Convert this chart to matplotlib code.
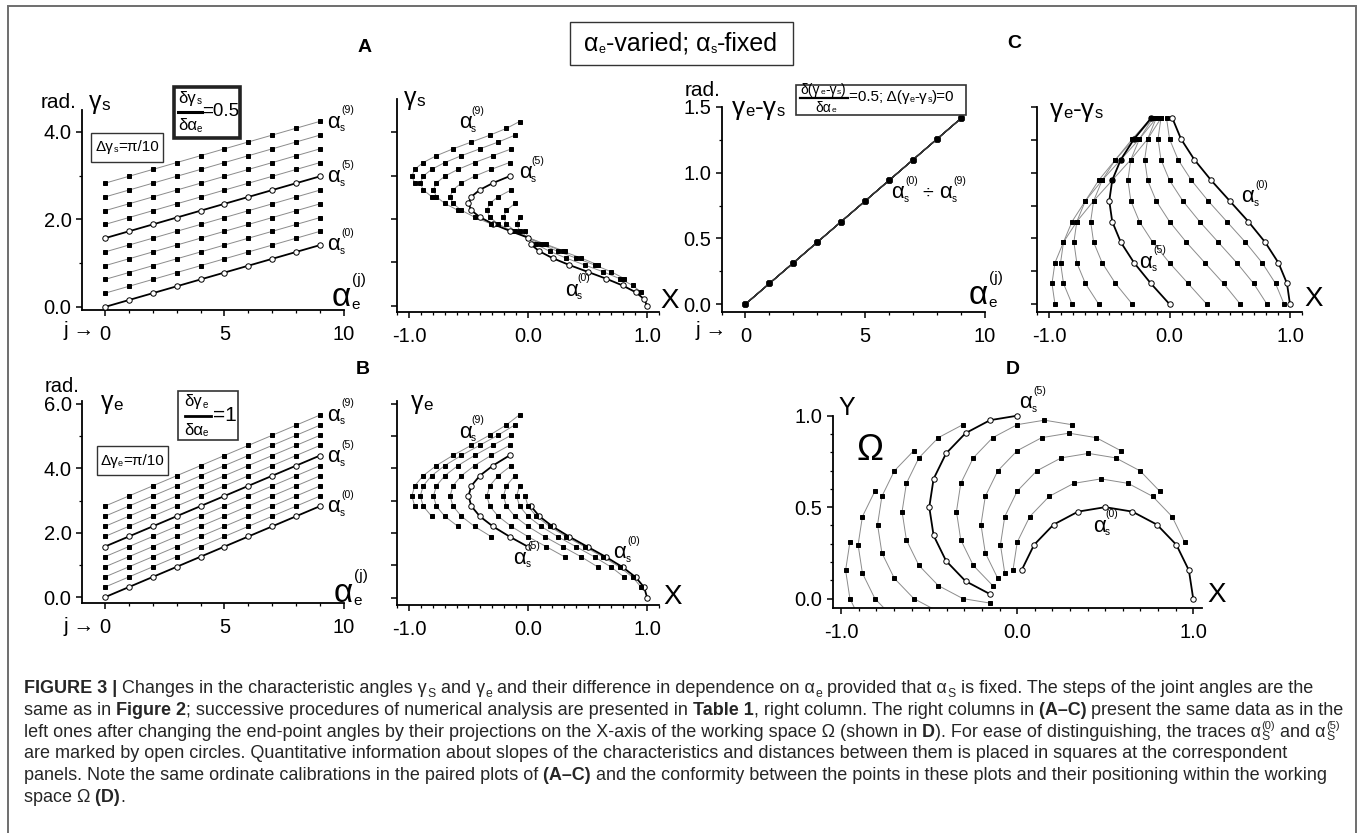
import numpy as np
import matplotlib
matplotlib.use("Agg")
import matplotlib.pyplot as plt
from matplotlib import font_manager as fm
from matplotlib.patches import Rectangle
from matplotlib.lines import Line2D
from matplotlib.ticker import MultipleLocator, FormatStrFormatter, NullFormatter
from matplotlib.transforms import Bbox, TransformedBbox

# joint angle grid (step pi/10 as written in the boxes), degrees
alpha_s_deg = [0, 18, 36, 54, 72, 90, 108, 126, 144, 162]   # traces alpha_s^(0)..(9)
alpha_e_deg = [0, 18, 36, 54, 72, 90, 108, 126, 144, 162]   # alpha_e^(j)
j_index = [0, 1, 2, 3, 4, 5, 6, 7, 8, 9]
slope_gs = 0.5          # d gamma_s / d alpha_e
slope_ge = 1.0          # d gamma_e / d alpha_e
link_len = [0.5, 0.5]   # two segments -> reach 1 (working space Omega)
open_traces = [0, 5]    # traces marked by open circles

# caption, piece by piece: n = normal, b = bold, sub, sup, subsup ("sub|sup")
caption_lines = [
    [("FIGURE 3 |", "b"), (" Changes in the characteristic angles γ", "n"), ("S", "sub"),
     (" and γ", "n"), ("e", "sub"), (" and their difference in dependence on α", "n"), ("e", "sub"),
     (" provided that α", "n"), ("S", "sub"), (" is fixed. The steps of the joint angles are the", "n")],
    [("same as in", "n"), (" Figure 2", "b"), ("; successive procedures of numerical analysis are presented in", "n"),
     (" Table 1", "b"), (", right column. The right columns in", "n"), (" (A–C)", "b"),
     (" present the same data as in the", "n")],
    [("left ones after changing the end-point angles by their projections on the X-axis of the working space Ω (shown in", "n"),
     (" D", "b"), ("). For ease of distinguishing, the traces α", "n"), ("S|(0)", "subsup"),
     (" and α", "n"), ("S|(5)", "subsup")],
    [("are marked by open circles. Quantitative information about slopes of the characteristics and distances between them is placed in squares at the correspondent", "n")],
    [("panels. Note the same ordinate calibrations in the paired plots of", "n"), (" (A–C)", "b"),
     (" and the conformity between the points in these plots and their positioning within the working", "n")],
    [("space Ω", "n"), (" (D)", "b"), (".", "n")],
]

W, H = 1360, 833
PT = 100 / 72.0
names = {f.name for f in fm.fontManager.ttflist}
CAPFONT = "Liberation Sans Narrow" if "Liberation Sans Narrow" in names else "Liberation Sans"

plt.rcParams["font.family"] = ["Liberation Sans", "DejaVu Sans"]
plt.rcParams["axes.unicode_minus"] = False

a_s = np.radians(alpha_s_deg)[:, None]
a_e = np.radians(alpha_e_deg)[None, :]
gam_s = a_s + slope_gs * a_e
gam_e = a_s + slope_ge * a_e
gam_d = gam_e - gam_s
Xend = link_len[0] * np.cos(a_s) + link_len[1] * np.cos(a_s + a_e)
Yend = link_len[0] * np.sin(a_s) + link_len[1] * np.sin(a_s + a_e)
J = np.tile(j_index, (len(alpha_s_deg), 1))

fig = plt.figure(figsize=(W / 100, H / 100), dpi=100)
R = fig.canvas.get_renderer()


def T(x, y, s, size, ha="center", va="center", **kw):
    return fig.text(x / W, 1 - y / H, s, fontsize=size, ha=ha, va=va, **kw)


def wid(t):
    return t.get_window_extent(R).width


def run(x, y, pieces, ha="left"):
    objs, cx = [], 0
    for p in pieces:
        s, size, dy = p[:3]
        t = fig.text(0, 0, s, fontsize=size, va="center", ha="left")
        objs.append((t, cx, dy))
        cx += wid(t)
    x0 = x - cx / 2 if ha == "center" else x
    for t, off, dy in objs:
        t.set_position(((x0 + off) / W, 1 - (y + dy) / H))


def cap_line(x, y, pieces, size, keep=True):
    # y is the baseline, in pixels from the top
    made, cx = [], x
    kw = dict(family=[CAPFONT, "DejaVu Sans"], color="#262626", va="baseline", ha="left")
    for s, kind in pieces:
        if kind in ("n", "b"):
            t = T(cx, y, s, size, weight="bold" if kind == "b" else "normal", **kw)
            made.append(t)
            cx += wid(t)
        elif kind == "sub":
            t = T(cx + 0.5, y + 0.2 * size * PT, s, size * 0.68, **kw)
            made.append(t)
            cx += wid(t) + 0.5
        else:
            lo, hi = s.split("|")
            t1 = T(cx + 0.5, y + 0.2 * size * PT, lo, size * 0.68, **kw)
            t2 = T(cx + 0.5, y - 0.42 * size * PT, hi, size * 0.62, **kw)
            made += [t1, t2]
            cx += max(wid(t1), wid(t2)) + 0.5
    if not keep:
        for t in made:
            t.remove()
    return cx - x


def alab(x, y, k, size=16):
    t = T(x, y, "α", size)
    r = x + wid(t) / 2
    T(r + 0.5, y - 0.55 * size * PT, "(%d)" % k, size * 0.47, ha="left")
    T(r - 1.0, y + 0.28 * size * PT, "s", size * 0.45, ha="left")


def aej(x, y, size=24):
    t = T(x, y, "α", size)
    r = x + wid(t) / 2
    T(r + 0.5, y + 0.24 * size * PT, "e", size * 0.46, ha="left")
    T(r + 1.5, y - 0.52 * size * PT, "(j)", size * 0.46, ha="left")


def glab(x, y, sub, size=18):
    t = T(x, y, "γ", size)
    r = x + wid(t) / 2
    T(r + 0.5, y + 0.12 * size * PT, sub, size * 0.68, ha="left")


def box(x0, y0, x1, y1, lw=1.0, ec="#333333"):
    fig.add_artist(Rectangle((x0 / W, 1 - y1 / H), (x1 - x0) / W, (y1 - y0) / H,
                             transform=fig.transFigure, fill=False, lw=lw, ec=ec))


def bar(x0, x1, y, lw):
    fig.add_artist(Line2D([x0 / W, x1 / W], [1 - y / H, 1 - y / H],
                          transform=fig.transFigure, lw=lw, color="black"))


def make_ax(x0, x1, y0, y1, xlim, ylim):
    ax = fig.add_axes([x0 / W, 1 - y1 / H, (x1 - x0) / W, (y1 - y0) / H])
    ax.set_xlim(xlim)
    ax.set_ylim(ylim)
    for s in ["top", "right"]:
        ax.spines[s].set_visible(False)
    for s in ["left", "bottom"]:
        ax.spines[s].set_linewidth(1.3)
    ax.tick_params(which="major", direction="out", length=4.5, width=1.1, labelsize=14.5)
    ax.tick_params(which="minor", direction="out", length=2.5, width=0.9)
    ax.tick_params(axis="x", pad=6)
    ax.tick_params(axis="y", pad=3)
    ax.patch.set_visible(False)
    return ax


def traces(ax, xs, ys, clip=None):
    for k in range(len(alpha_s_deg)):
        bold = k in open_traces
        ln, = ax.plot(xs[k], ys[k], color="black" if bold else "#8c8c8c",
                      lw=1.3 if bold else 0.7, zorder=3 if bold else 2)
        mk, = ax.plot(xs[k], ys[k], ls="none", marker="o" if bold else "s",
                      ms=3.9 if bold else 3.0, mfc="white" if bold else "black",
                      mec="black", mew=0.7, zorder=4)
        if clip is not None:
            ln.set_clip_box(clip)
            mk.set_clip_box(clip)


def j_axis(ax):
    ax.xaxis.set_major_locator(MultipleLocator(5))
    ax.xaxis.set_minor_locator(MultipleLocator(1))
    ax.xaxis.set_major_formatter(FormatStrFormatter("%d"))


def x_axis(ax):
    ax.xaxis.set_major_locator(MultipleLocator(1))
    ax.xaxis.set_minor_locator(MultipleLocator(0.1))
    ax.xaxis.set_major_formatter(FormatStrFormatter("%.1f"))


def y_axis(ax, major, minor=None, labels=True):
    ax.yaxis.set_major_locator(MultipleLocator(major))
    if minor:
        ax.yaxis.set_minor_locator(MultipleLocator(minor))
    ax.yaxis.set_major_formatter(FormatStrFormatter("%.1f") if labels else NullFormatter())


# ---- A ----
axA = make_ax(82, 344, 110, 310, (-0.96, 10), (-0.07, 4.5))
traces(axA, J, gam_s)
j_axis(axA); y_axis(axA, 2, 1)

axA2 = make_ax(397, 659, 99, 312, (-1.1, 1.1), (-0.14, 4.76))
traces(axA2, Xend, gam_s)
x_axis(axA2); y_axis(axA2, 1, labels=False)

# ---- C ----
axC = make_ax(721.5, 985, 107, 312, (-1.0, 10), (-0.06, 1.5))
for k in range(len(alpha_s_deg)):
    axC.plot(J[k], gam_d[k], color="#333333", lw=0.8, marker="s", ms=3.0,
             mfc="black", mec="black")
j_axis(axC); y_axis(axC, 0.5, 0.25)

axC2 = make_ax(1037, 1302, 107, 312, (-1.1, 1.1), (-0.06, 1.5))
traces(axC2, Xend, gam_d)
x_axis(axC2); y_axis(axC2, 0.25, labels=False)

# ---- B ----
axB = make_ax(82, 344, 401, 603, (-0.96, 10), (-0.18, 6.09))
traces(axB, J, gam_e)
j_axis(axB); y_axis(axB, 2, 1)

axB2 = make_ax(397, 659, 401, 605, (-1.1, 1.1), (-0.23, 6.08))
traces(axB2, Xend, gam_e)
x_axis(axB2); y_axis(axB2, 1, labels=False)

# ---- D ----
axD = make_ax(832.5, 1202, 415.7, 608.3, (-1.05, 1.05), (-0.053, 1.0))
clipD = TransformedBbox(Bbox([[-1.05, -0.053], [1.05, 1.08]]), axD.transData)
traces(axD, Xend, Yend, clip=clipD)
x_axis(axD); y_axis(axD, 0.5, 0.1)

# ---- labels ----
for ch, x, y in [("A", 365, 47), ("B", 363, 370), ("C", 1014, 43), ("D", 1013, 370)]:
    T(x, y, ch, 14, weight="bold")

box(570, 22, 793, 65, lw=1.0)
run(681, 44, [("α", 18, 0), ("e", 9, 6), ("-varied; α", 18, 0), ("s", 9, 6), ("-fixed", 18, 0)], ha="center")

# A left
T(59, 102, "rad.", 15)
glab(95, 102, "s")
aej(341, 297)
T(79, 331, "j →", 15)
box(91, 133, 163, 162, lw=1.0)
run(127, 147, [("Δγ", 11, 0), ("s", 6.5, 3), ("=π/10", 11, 0)], ha="center")
box(174, 87, 240, 138, lw=2.6, ec="#222222")
run(190, 98, [("δγ", 12, 0), ("s", 7, 3)], ha="center")
bar(178, 202, 112, 2.2)
run(190, 126, [("δα", 12, 0), ("e", 7, 3)], ha="center")
T(202, 112, "=0.5", 13.5, ha="left")
for k, y in [(9, 122), (5, 177), (0, 245)]:
    alab(334, y, k)

# A right
glab(410, 98, "s")
T(670, 301, "X", 20)
alab(465, 123, 9); alab(525, 173, 5); alab(571, 290, 0)

# C left
T(703, 90, "rad.", 15)
run(732, 108, [("γ", 19, 0), ("e", 12, 3), ("-γ", 19, 0), ("s", 12, 3)])
box(796, 85, 966, 115, lw=1.2)
run(823, 90, [("δ(γ", 10, 0), ("e", 6, 2), ("-γ", 10, 0), ("s", 6, 2), (")", 10, 0)], ha="center")
bar(800, 848, 98, 1.6)
run(826, 108, [("δα", 10, 0), ("e", 6, 2)], ha="center")
run(849, 97, [("=0.5; Δ(γ", 11, 0), ("e", 6.5, 2), ("-γ", 11, 0), ("s", 6.5, 2), (")=0", 11, 0)])
aej(978, 295)
T(711, 331, "j →", 15)
alab(898, 193, 0); T(928, 193, "÷", 14); alab(946, 193, 9)

# C right
run(1050, 110, [("γ", 19, 0), ("e", 12, 3), ("-γ", 19, 0), ("s", 12, 3)])
T(1314, 299, "X", 20)
alab(1248, 197, 0); alab(1146, 262, 5)

# B left
T(62, 387, "rad.", 14.5)
glab(107, 402, "e")
aej(343, 593)
T(79, 627, "j →", 15)
box(178, 391, 238, 440, lw=1.2)
run(196, 402, [("δγ", 12, 0), ("e", 7, 3)], ha="center")
bar(185, 211, 416, 2.0)
run(196, 430, [("δα", 12, 0), ("e", 7, 3)], ha="center")
T(213, 415, "=1", 15, ha="left")
box(97, 446, 168, 475, lw=1.0)
run(132, 461, [("Δγ", 11, 0), ("e", 6.5, 3), ("=π/10", 11, 0)], ha="center")
for k, y in [(9, 415), (5, 457), (0, 507)]:
    alab(334, y, k)

# B right
glab(417, 402, "e")
T(673, 597, "X", 20)
alab(465, 432, 9); alab(620, 553, 0); alab(520, 558, 5)

# D
T(847, 408, "Y", 18)
T(870, 450, "Ω", 26)
T(1217, 595, "X", 20)
alab(1026, 403, 5); alab(1099, 526, 0)

# caption: size chosen so the second line spans the width it has in the figure
w13 = cap_line(24, 700, caption_lines[1], 13, keep=False)
cap_size = 13 * (1341 - 24) / w13
for i, pieces in enumerate(caption_lines):
    cap_line(24, 693 + 21.8 * i, pieces, cap_size)

# outer frame
fig.add_artist(Rectangle((7.5 / W, -0.02), (1355.5 - 7.5) / W, 1 - 6 / H + 0.02,
                         transform=fig.transFigure, fill=False, lw=1.4, ec="#6e6e6e"))

fig.savefig("out.png", dpi=100)
